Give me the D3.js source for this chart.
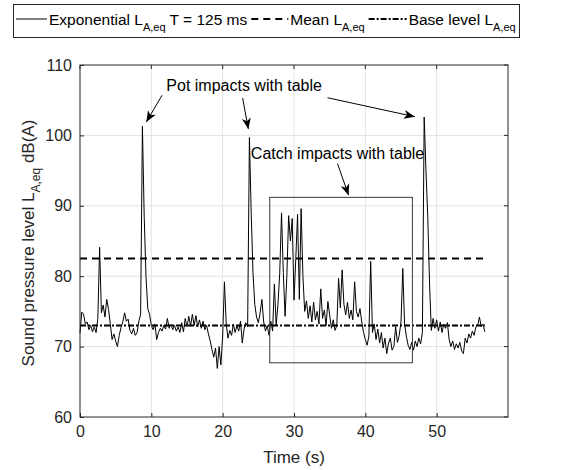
<!DOCTYPE html>
<html>
  <head>
    <meta charset="utf-8" />
    <script src="https://cdn.jsdelivr.net/npm/d3@7"></script>
    <style>
      body { margin: 0; background: #fff; }
      svg text { font-family: 'Liberation Sans', Arial, sans-serif; fill: #262626; }
    </style>
  </head>
  <body>
    <svg id="chart" width="562" height="470"></svg>
    <script>
      // exponential L_A,eq, one value every 0.25 s from t = 0
      const dt = 0.25
      const spl = [
        71.9, 74.9, 74.6, 73.2,   73.5, 72.4, 73.0, 72.1,   72.8, 72.0, 74.0, 84.1,
        74.8, 75.9, 74.2, 76.7,   75.3, 73.2, 71.0, 71.8,   70.8, 70.0, 71.6, 72.7,
        73.5, 74.8, 73.6, 73.9,   72.3, 71.8, 72.6, 71.6,   72.0, 73.6, 74.6, 101.3,
        88.5, 80.0, 75.4, 74.6,   73.0, 72.4, 73.2, 71.0,   72.0, 72.6, 72.2, 73.0,
        72.5, 74.0, 72.6, 73.2,   72.4, 73.0, 72.2, 72.8,   72.0, 73.4, 72.1, 74.0,
        72.8, 74.3, 72.9, 74.6,   73.0, 74.4, 72.8, 73.8,   72.6, 73.6, 72.4, 73.0,
        71.8, 70.8, 69.6, 68.5,   69.8, 66.9, 70.0, 67.4,   71.5, 79.2, 73.2, 71.2,
        72.3, 71.6, 73.2, 72.0,   73.0, 72.2, 73.6, 70.5,   72.5, 73.4, 72.8, 99.7,
        89.0, 80.5, 76.0, 74.2,   73.4, 74.8, 76.7, 73.5,   72.2, 73.0, 71.6, 73.6,
        72.2, 78.9, 73.0, 76.0,   80.4, 89.0, 80.5, 74.3,   80.1, 88.6, 85.0, 88.2,
        76.6, 82.5, 88.8, 76.7,   89.6, 80.0, 75.0, 76.5,   74.0, 75.8, 73.5, 76.3,
        73.8, 75.0, 73.2, 78.2,   74.0, 75.2, 73.0, 76.4,   74.5, 72.6, 73.8, 72.3,
        73.0, 79.7, 75.5, 80.9,   76.0, 74.5, 76.3, 74.0,   75.2, 73.8, 79.2, 75.0,
        74.2, 75.4, 73.5, 72.0,   71.0, 70.2, 71.5, 82.1,   72.0, 73.2, 71.0, 72.5,
        70.5, 72.0, 69.8, 71.2,   69.0, 70.5, 71.2, 69.5,   70.0, 72.8, 70.6, 71.6,
        73.5, 81.1, 73.2, 71.5,   70.2, 69.6, 70.6, 69.5,   70.8, 70.0, 71.2, 70.4,
        72.0, 102.6, 95.0, 88.5,  79.0, 72.3, 74.0, 72.6,   73.8, 72.2, 73.5, 72.0,
        73.2, 72.6, 73.4, 71.0,   70.0, 70.8, 69.6, 70.4,   69.8, 70.6, 69.4, 69.0,
        71.2, 70.5, 71.8, 71.2,   72.2, 71.6, 72.8, 73.0,   74.2, 72.8, 73.2, 72.1
      ]
      const meanLevel = 82.5
      const baseLevel = 73.0

      const xTicks = [0, 10, 20, 30, 40, 50]
      const yTicks = [60, 70, 80, 90, 100, 110]

      // annotations in data units: [t, dB]
      const potLabel = { text: "Pot impacts with table", at: [12.1, 106.3] }
      const potArrows = [
        [[11.5, 105.7], [9.3, 101.9]],
        [[22.8, 105.3], [23.6, 100.9]],
        [[34.7, 105.35], [46.95, 102.65]]
      ]
      const catchLabel = { text: "Catch impacts with table", at: [23.95, 96.6] }
      const catchArrow = [[36.1, 96.0], [37.65, 91.5]]
      const catchBox = { t0: 26.6, t1: 46.6, lo: 67.7, hi: 91.2 }

      const svg = d3.select("#chart")
      const margin = { top: 65, right: 54, bottom: 53, left: 80 }
      const width = 562, height = 470

      const x = d3.scaleLinear().domain([0, 60]).range([margin.left, width - margin.right])
      const y = d3.scaleLinear().domain([60, 110]).range([height - margin.bottom, margin.top])

      const defs = svg.append("defs")
      defs.append("marker")
        .attr("id", "head")
        .attr("markerUnits", "userSpaceOnUse")
        .attr("viewBox", "-12 -6 14 12")
        .attr("markerWidth", 14).attr("markerHeight", 12)
        .attr("refX", 0).attr("refY", 0)
        .attr("orient", "auto")
        .append("path")
        .attr("d", "M0,0 L-11,-4.5 L-8,0 L-11,4.5 Z")
        .attr("fill", "#000")

      // grid
      const grid = svg.append("g").attr("stroke", "#e3e3e3").attr("stroke-width", 1)
      grid.selectAll("line.gx").data(xTicks.slice(1)).join("line")
        .attr("x1", d => x(d)).attr("x2", d => x(d))
        .attr("y1", y(60)).attr("y2", y(110))
      grid.selectAll("line.gy").data(yTicks.slice(1, -1)).join("line")
        .attr("x1", x(0)).attr("x2", x(60))
        .attr("y1", d => y(d)).attr("y2", d => y(d))

      // reference levels
      const tEnd = (spl.length - 1) * dt
      svg.append("line")
        .attr("x1", x(0)).attr("x2", x(tEnd))
        .attr("y1", y(meanLevel)).attr("y2", y(meanLevel))
        .attr("stroke", "#000").attr("stroke-width", 2)
        .attr("stroke-dasharray", "7,5")
      svg.append("line")
        .attr("x1", x(0)).attr("x2", x(tEnd))
        .attr("y1", y(baseLevel)).attr("y2", y(baseLevel))
        .attr("stroke", "#000").attr("stroke-width", 2)
        .attr("stroke-dasharray", "6,2,2,2")

      // level trace
      const line = d3.line()
        .x((d, i) => x(i * dt))
        .y(d => y(d))
      svg.append("path")
        .datum(spl)
        .attr("d", line)
        .attr("fill", "none")
        .attr("stroke", "#000")
        .attr("stroke-width", 1)
        .attr("stroke-linejoin", "round")

      // axes
      const xAxis = d3.axisBottom(x).tickValues(xTicks).tickSize(-4).tickPadding(9)
      const yAxis = d3.axisLeft(y).tickValues(yTicks).tickSize(-4).tickPadding(8)
      const gx = svg.append("g").attr("transform", `translate(0,${y(60)})`).call(xAxis)
      const gy = svg.append("g").attr("transform", `translate(${x(0)},0)`).call(yAxis)
      ;[gx, gy].forEach(g => {
        g.select(".domain").remove()
        g.selectAll(".tick line").attr("stroke", "#262626")
        g.selectAll(".tick text").attr("font-size", 16).attr("fill", "#262626")
          .style("font-family", "'Liberation Sans', Arial, sans-serif")
      })
      // top / right ticks
      svg.append("g").selectAll("line").data(xTicks).join("line")
        .attr("x1", d => x(d)).attr("x2", d => x(d))
        .attr("y1", y(110)).attr("y2", y(110) + 4)
        .attr("stroke", "#262626")
      svg.append("g").selectAll("line").data(yTicks).join("line")
        .attr("x1", x(60)).attr("x2", x(60) - 4)
        .attr("y1", d => y(d)).attr("y2", d => y(d))
        .attr("stroke", "#262626")
      svg.append("rect")
        .attr("x", x(0)).attr("y", y(110))
        .attr("width", x(60) - x(0)).attr("height", y(60) - y(110))
        .attr("fill", "none").attr("stroke", "#262626").attr("stroke-width", 1)

      // axis labels
      svg.append("text")
        .attr("x", (x(0) + x(60)) / 2).attr("y", 463)
        .attr("text-anchor", "middle").attr("font-size", 17)
        .text("Time (s)")
      const yl = svg.append("text")
        .attr("transform", `translate(34,${(y(60) + y(110)) / 2 + 2}) rotate(-90)`)
        .attr("text-anchor", "middle").attr("font-size", 17)
      yl.append("tspan").text("Sound pressure level L")
      yl.append("tspan").attr("font-size", 12).attr("dy", 6).text("A,eq")
      yl.append("tspan").attr("dy", -6).text(" dB(A)")

      // catch box
      svg.append("rect")
        .attr("x", x(catchBox.t0)).attr("y", y(catchBox.hi))
        .attr("width", x(catchBox.t1) - x(catchBox.t0))
        .attr("height", y(catchBox.lo) - y(catchBox.hi))
        .attr("fill", "none").attr("stroke", "#3a3a3a").attr("stroke-width", 1)

      // annotations
      const ann = svg.append("g")
      ann.selectAll("line").data(potArrows.concat([catchArrow])).join("line")
        .attr("x1", d => x(d[0][0])).attr("y1", d => y(d[0][1]))
        .attr("x2", d => x(d[1][0])).attr("y2", d => y(d[1][1]))
        .attr("stroke", "#000").attr("stroke-width", 1)
        .attr("marker-end", "url(#head)")
      ;[potLabel, catchLabel].forEach(l => {
        ann.append("text")
          .attr("x", x(l.at[0])).attr("y", y(l.at[1]))
          .attr("font-size", 16).attr("fill", "#000")
          .style("fill", "#000")
          .text(l.text)
      })

      // legend, laid out left to right
      const lg = svg.append("g")
      lg.append("rect")
        .attr("x", 13.5).attr("y", 4.5).attr("width", 506).attr("height", 33)
        .attr("fill", "#fff").attr("stroke", "#262626").attr("stroke-width", 1)
      const legendItems = [
        { len: 31, dash: null, pre: "Exponential L", post: " T = 125 ms" },
        { len: 37, dash: "7,5", pre: "Mean L", post: "" },
        { len: 38, dash: "6,2,2,2", pre: "Base level L", post: "" }
      ]
      let cx = 16
      legendItems.forEach((it, i) => {
        if (i > 0) cx += 4
        lg.append("line")
          .attr("x1", cx).attr("x2", cx + it.len).attr("y1", 19).attr("y2", 19)
          .attr("stroke", "#000").attr("stroke-width", it.dash ? 2 : 1)
          .attr("stroke-dasharray", it.dash)
        cx += it.len + 2
        const t = lg.append("text").attr("x", cx).attr("y", 25).attr("font-size", 15.5)
          .style("fill", "#000")
        t.append("tspan").text(it.pre)
        t.append("tspan").attr("font-size", 11).attr("dy", 6).text("A,eq")
        if (it.post) t.append("tspan").attr("dy", -6).text(it.post)
        cx += t.node().getComputedTextLength()
      })
    </script>
  </body>
</html>
